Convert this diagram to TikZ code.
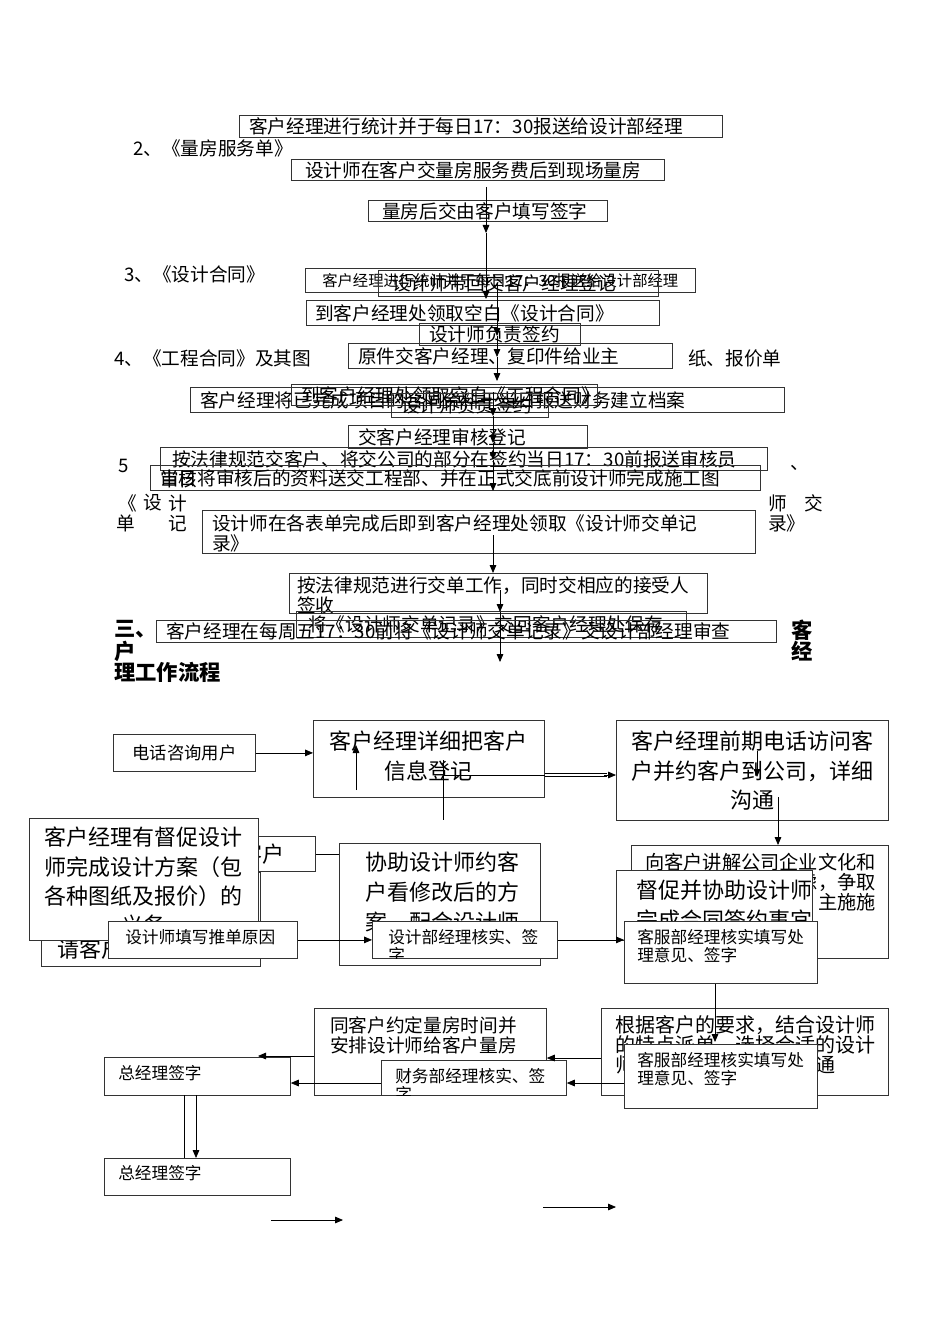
\documentclass[tikz,border=0pt]{standalone}
\usepackage{fontspec}
\setmainfont{Noto Sans CJK SC}
\usetikzlibrary{arrows.meta}

% frame placed by its pixel corners
\newcommand{\frameat}[6][box]{%
  \pgfmathsetlengthmacro\framew{(#5-#3)*0.75pt}%
  \pgfmathsetlengthmacro\frameh{(#6-#4)*0.75pt}%
  \node[#1, minimum width=\framew, minimum height=\frameh] (#2) at (#3,#4) {};}

\tikzset{
  box/.style={draw=black!80, line width=0.6pt, anchor=north west, inner sep=0pt},
  wbox/.style={box, fill=white},
  txt/.style={inner sep=0pt, align=left, font=\fontsize{14}{15}\selectfont},
  small/.style={txt, font=\fontsize{12.5}{13.5}\selectfont},
  big/.style={txt, font=\fontsize{16.5}{22}\selectfont},
  head/.style={txt, anchor=north west, font=\bfseries\fontsize{16}{18}\selectfont},
  arr/.style={-{Triangle[length=6pt,width=5pt]}, line width=0.6pt},
}

\begin{document}
\begin{tikzpicture}[x=0.75pt, y=-0.75pt]
\useasboundingbox (0,0) rectangle (950,1344);

% ---- 表单流程
\frameat{stat}{239}{115}{722}{137}
\node[txt, anchor=west] at ([shift={(10,0)}]stat.west) {客户经理进行统计并于每日17：30报送给设计部经理};
\node[txt, anchor=west] at (133,148) {2、《量房服务单》};
\frameat{fee}{291}{159}{664}{180}
\node[txt, anchor=west] at ([shift={(14,0)}]fee.west) {设计师在客户交量房服务费后到现场量房};
\frameat{sign}{368}{200}{607}{221}
\node[txt, anchor=west] at ([shift={(14,0)}]sign.west) {量房后交由客户填写签字};

\node[txt, anchor=west] at (124,274) {3、《设计合同》};
\frameat{stat2}{305}{268}{695}{292}
\node[txt, anchor=west, font=\fontsize{11.5}{13}\selectfont] at ([shift={(17,0)}]stat2.west) {客户经理进行统计并于每日17：30报送给设计部经理};
\frameat{back}{378}{270}{658}{296}
\node[txt, anchor=west] at ([shift={(14,0)}]back.west) {设计师带回交客户经理登记};
\frameat{blank}{306}{300}{659}{325}
\node[txt, anchor=west] at ([shift={(9,0)}]blank.west) {到客户经理处领取空白《设计合同》};
\frameat{duty1}{419}{323}{580}{345}
\node[txt, anchor=west] at ([shift={(10,0)}]duty1.west) {设计师负责签约};

\node[txt, anchor=west] at (114,358) {4、《工程合同》及其图};
\node[txt, anchor=west] at (688,358) {纸、报价单};
\frameat{orig}{348}{343}{672}{368}
\node[txt, anchor=west] at ([shift={(10,0)}]orig.west) {原件交客户经理、复印件给业主};
\frameat{file}{190}{387}{784}{412}
\node[txt, anchor=west] at ([shift={(10,0)}]file.west) {客户经理将已完成项目的合同资料于当日报送财务建立档案};
\frameat{blank2}{291}{384}{597}{405}
\node[txt, anchor=west] at ([shift={(10,0)}]blank2.west) {到客户经理处领取空白《工程合同》};
\frameat{duty2}{391}{393}{548}{417}
\node[txt, anchor=west] at ([shift={(10,0)}]duty2.west) {设计师负责签约};
\frameat{check}{348}{425}{587}{448}
\node[txt, anchor=west] at ([shift={(10,0)}]check.west) {交客户经理审核登记};
\frameat{law}{160}{447}{767}{470}
\node[txt, anchor=west] at ([shift={(12,0)}]law.west) {按法律规范交客户、将交公司的部分在签约当日17：30前报送审核员};
\frameat{work}{150}{465}{760}{490}
\node[txt, anchor=west] at ([shift={(10,0)}]work.west) {当日将审核后的资料送交工程部、并在正式交底前设计师完成施工图};
\node[txt, anchor=west] at ([shift={(10,1)}]work.west) {审核};
\node[txt, anchor=west] at (118,466) {5};
\node[txt, anchor=west] at (790,468) {、};

\node[txt, anchor=west] at (118,503) {《};
\node[txt, anchor=west] at (143,503) {设};
\node[txt, anchor=west] at (168,503) {计};
\node[txt, anchor=west] at (116,523) {单};
\node[txt, anchor=west] at (168,523) {记};
\node[txt, anchor=west] at (768,503) {师};
\node[txt, anchor=west] at (804,503) {交};
\node[txt, anchor=west] at (768,523) {录》};
\frameat{rec}{202}{510}{755}{553}
\node[txt, anchor=north west] at ([shift={(10,4)}]rec.north west) {设计师在各表单完成后即到客户经理处领取《设计师交单记\\录》};
\frameat{hand}{289}{573}{707}{613}
\node[txt, anchor=north west] at ([shift={(8,3)}]hand.north west) {按法律规范进行交单工作，同时交相应的接受人\\签收};
\frameat{keep}{296}{611}{686}{637}
\node[txt, anchor=west] at ([shift={(12,0)}]keep.west) {将《设计师交单记录》交回客户经理处保存};
\frameat{week}{156}{620}{776}{642}
\node[txt, anchor=west] at ([shift={(10,0)}]week.west) {客户经理在每周五17：30前将《设计师交单记录》交设计部经理审查};

\node[head] at (114,620) {三、};
\node[head] at (114,641) {户};
\node[head] at (791,620) {客};
\node[head] at (791,641) {经};
\node[head] at (114,662) {理工作流程};

% 表单流程箭头
\coordinate (a1) at (486,187);
\coordinate (a2) at (486,233);
\coordinate (a3) at (486,299);
\draw[arr] (a1) -- (a2);
\draw[arr] (a2) -- (a3);
\coordinate (b1) at (497,283);
\coordinate (b2) at (497,336);
\coordinate (b3) at (497,357);
\coordinate (b4) at (497,381);
\draw[arr] (b1) -- (b2);
\draw[arr] (b2) -- (b3);
\draw[arr] (b3) -- (b4);
\coordinate (c1) at (493,392);
\coordinate (c2) at (493,416);
\coordinate (c3) at (493,443);
\coordinate (c4) at (493,460);
\coordinate (c5) at (493,491);
\draw[arr] (c1) -- (c2);
\draw[arr] (c2) -- (c3);
\draw[arr] (c3) -- (c4);
\draw[arr] (c4) -- (c5);
\coordinate (r1) at (493,535);
\draw[arr] (r1) -- (r1 |- hand.north);
\coordinate (k1) at (500,590);
\coordinate (k2) at (500,612);
\coordinate (k3) at (500,662);
\draw[arr] (k1) -- (k2);
\draw[arr] (k2) -- (k3);

% ---- 客户经理工作流程
\frameat[wbox]{tel}{113}{734}{255}{771}
\node[txt, font=\fontsize{13}{15}\selectfont] at (tel.center) {电话咨询用户};
\frameat[wbox]{reg}{313}{720}{544}{797}
\node[big, align=center, anchor=north] at ([shift={(0,11)}]reg.north) {客户经理详细把客户\\信息登记};
\frameat[wbox]{call}{616}{720}{888}{820}
\node[big, align=center, anchor=north] at ([shift={(0,11)}]call.north) {客户经理前期电话访问客\\户并约客户到公司，详细\\沟通};

\draw[arr] (tel.east) -- (tel.east -| reg.west);
\coordinate (u1) at (356,790);
\coordinate (u2) at (356,745);
\draw[arr] (u1) -- (u2);
\coordinate (v1) at (443,760);
\coordinate (v2) at (443,820);
\draw (v1) -- (v2);
\coordinate (h1) at (443,775);
\draw (h1) -- (h1 -| reg.east);
\draw[double distance=2.2pt, line width=0.5pt] (reg.east |- h1) -- ([shift={(-9,0)}]h1 -| call.west);
\draw[arr] ([shift={(-12,0)}]h1 -| call.west) -- (h1 -| call.west);
\coordinate (w1) at (757,751);
\draw[arr] (w1) -- ++(0,26);

\frameat[wbox]{intro}{631}{845}{888}{958}
\node[txt, anchor=north west, font=\fontsize{14.4}{14.8}\selectfont] at ([shift={(14,8)}]intro.north west) {向客户讲解公司企业文化和\\服务理念，消除疑虑，争取\\促成客户签约意向，主施施};
\coordinate (w2) at (778,797);
\draw[arr] (w2) -- (w2 |- intro.north);
\frameat[wbox]{urge}{616}{870}{812}{940}
\node[big, anchor=north west, font=\fontsize{16.5}{22.5}\selectfont] at ([shift={(20,10)}]urge.north west) {督促并协助设计师\\完成合同签约事宜};
\frameat[wbox]{cs1}{624}{921}{817}{983}
\node[small, anchor=north west] at ([shift={(13,8)}]cs1.north west) {客服部经理核实填写处\\理意见、签字};

\frameat[wbox]{inv}{180}{836}{315}{871}
\node[big, anchor=west] at ([shift={(60,0)}]inv.west) {客户};
\frameat[wbox]{ask}{41}{872}{260}{966}
\node[big, anchor=west] at ([shift={(16,-18)}]ask.south west) {请客户确认方案};
\frameat[wbox]{duty}{29}{818}{258}{940}
\node[big, align=center, anchor=north] at ([shift={(0,9)}]duty.north) {客户经理有督促设计\\师完成设计方案（包\\各种图纸及报价）的\\义务};
\frameat[wbox]{help}{339}{843}{540}{965}
\node[big, anchor=north west, font=\fontsize{16.5}{22.5}\selectfont] at ([shift={(26,9)}]help.north west) {协助设计师约客\\户看修改后的方\\案，配合设计师};
\draw (inv.east) -- (inv.east -| help.west);
\frameat[wbox]{push}{108}{921}{297}{958}
\node[small, anchor=west] at ([shift={(17,-3)}]push.west) {设计师填写推单原因};
\frameat[wbox]{dsgn}{372}{921}{557}{958}
\begin{scope}
  \clip (dsgn.north west) rectangle (dsgn.south east);
  \node[small, anchor=north west] at ([shift={(16,8)}]dsgn.north west) {设计部经理核实、签\\字};
\end{scope}
\draw[arr] (push.east) -- (dsgn.west);
\draw[arr] (dsgn.east) -- (dsgn.east -| cs1.west);

\frameat[wbox]{meas}{314}{1008}{546}{1095}
\node[txt, anchor=north west] at ([shift={(16,8)}]meas.north west) {同客户约定量房时间并\\安排设计师给客户量房};
\frameat[wbox]{match}{601}{1008}{888}{1095}
\node[txt, anchor=north west, font=\fontsize{15}{15}\selectfont] at ([shift={(14,7)}]match.north west) {根据客户的要求，结合设计师\\的特点派单，选择合适的设计\\师，及时与客户进行沟通};
\coordinate (d1) at (715,1042);
\draw[arr] (d1 |- cs1.south) -- (d1);
\frameat[wbox]{fin}{381}{1060}{566}{1095}
\begin{scope}
  \clip (fin.north west) rectangle (fin.south east);
  \node[small, anchor=north west] at ([shift={(14,8)}]fin.north west) {财务部经理核实、签\\字};
\end{scope}
\frameat[wbox]{cs2}{624}{1044}{817}{1108}
\node[small, anchor=north west] at ([shift={(13,8)}]cs2.north west) {客服部经理核实填写处\\理意见、签字};
\frameat[wbox]{gm1}{104}{1057}{290}{1095}
\node[small, anchor=west] at ([shift={(14,-3)}]gm1.west) {总经理签字};
\frameat[wbox]{gm2}{104}{1158}{290}{1195}
\node[small, anchor=west] at ([shift={(14,-4)}]gm2.west) {总经理签字};

\coordinate (m1) at (601,1058);
\draw[arr] (m1) -- (m1 -| meas.east);
\coordinate (m2) at (624,1083);
\draw[arr] (m2) -- (m2 -| fin.east);
\draw[arr] (fin.west |- m2) -- (m2 -| gm1.east);
\coordinate (m3) at (314,1056);
\coordinate (m4) at (258,1056);
\draw[arr] (m3) -- (m4);
\coordinate (g1) at (184,1095);
\coordinate (g2) at (196,1095);
\draw (g1) -- (g1 |- gm2.north);
\draw[arr] (g2) -- (g2 |- gm2.north);

\coordinate (f1) at (271,1220);
\coordinate (f2) at (343,1220);
\draw[arr] (f1) -- (f2);
\coordinate (f3) at (543,1207);
\coordinate (f4) at (616,1207);
\draw[arr] (f3) -- (f4);
\end{tikzpicture}
\end{document}
